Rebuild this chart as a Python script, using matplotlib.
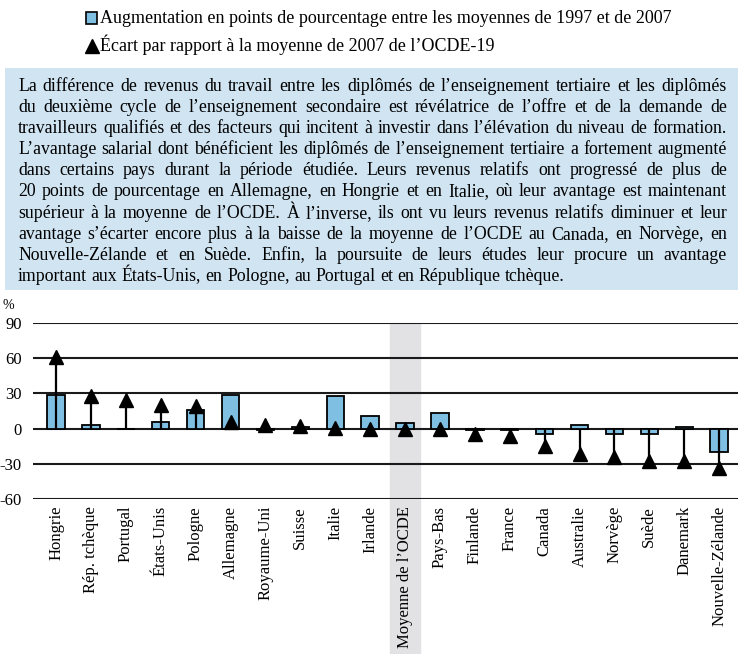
import numpy as np
import matplotlib
matplotlib.use('Agg')
import matplotlib.pyplot as plt
from matplotlib.patches import Rectangle

plt.rcParams['font.family'] = ['Liberation Serif', 'DejaVu Serif']

# data
countries = ['Hongrie', 'Rép. tchèque', 'Portugal', 'États-Unis', 'Pologne', 'Allemagne',
             'Royaume-Uni', 'Suisse', 'Italie', 'Irlande', 'Moyenne de l’OCDE', 'Pays-Bas',
             'Finlande', 'France', 'Canada', 'Australie', 'Norvège', 'Suède', 'Danemark',
             'Nouvelle-Zélande']
change_97_07 = [29, 3, 0, 6, 16, 29, -1, 1, 28, 11, 4.5, 13, -1, -1, -5, 3, -5, -5, 1.5, -20]
gap_oecd_07 = [61, 28, 24, 20, 19, 6, 3, 2, 0.5, 0, 0, 0, -5, -6, -15, -22, -24, -28, -28, -34]
yticks = [90, 60, 30, 0, -30, -60]
avg_label = 'Moyenne de l’OCDE'

legend_bar = 'Augmentation en points de pourcentage entre les moyennes de 1997 et de 2007'
legend_tri = 'Écart par rapport à la moyenne de 2007 de l’OCDE-19'
para = [
    "La différence de revenus du travail entre les diplômés de l’enseignement tertiaire et les diplômés",
    "du deuxième cycle de l’enseignement secondaire est révélatrice de l’offre et de la demande de",
    "travailleurs qualifiés et des facteurs qui incitent à investir dans l’élévation du niveau de formation.",
    "L’avantage salarial dont bénéficient les diplômés de l’enseignement tertiaire a fortement augmenté",
    "dans certains pays durant la période étudiée. Leurs revenus relatifs ont progressé de plus de",
    "20 points de pourcentage en Allemagne, en Hongrie et en Italie, où leur avantage est maintenant",
    "supérieur à la moyenne de l’OCDE. À l’inverse, ils ont vu leurs revenus relatifs diminuer et leur",
    "avantage s’écarter encore plus à la baisse de la moyenne de l’OCDE au Canada, en Norvège, en",
    "Nouvelle-Zélande et en Suède. Enfin, la poursuite de leurs études leur procure un avantage",
    "important aux États-Unis, en Pologne, au Portugal et en République tchèque.",
]

bar_color = '#7fbfe2'
box_color = '#d0e4f2'

fig = plt.figure(figsize=(7.38, 6.54), dpi=100)

# overlay in pixel units for legend / text box
top = fig.add_axes([0, 0, 1, 1])
top.set_xlim(0, 738)
top.set_ylim(654, 0)
top.axis('off')

top.add_patch(Rectangle((86, 12), 11, 12, facecolor=bar_color, edgecolor='black', lw=1.2))
top.text(100, 23, legend_bar, fontsize=13, va='baseline', ha='left')
top.plot([91.5], [46], marker='^', color='black', markersize=10)
top.text(100, 51, legend_tri, fontsize=13, va='baseline', ha='left')

top.add_patch(Rectangle((5, 68), 733, 222, facecolor=box_color, edgecolor='none'))

renderer = fig.canvas.get_renderer()


def width_of(s, size):
    t = top.text(0, 0, s, fontsize=size)
    w = t.get_window_extent(renderer).width
    t.remove()
    return w


x0, x1 = 18, 727
# pick a font size so the longest line nearly fills the box
widest = max(width_of(l, 11) for l in para)
fs = 11 * (x1 - x0) * 0.985 / widest
space_w = width_of('a a', fs) - width_of('aa', fs)
for i, line in enumerate(para):
    y = 91 + i * 21.1
    words = line.split(' ')
    ws = [width_of(w, fs) for w in words]
    if i < len(para) - 1:
        gap = (x1 - x0 - sum(ws)) / (len(words) - 1)
    else:
        gap = space_w
    x = x0
    for w, wd in zip(words, ws):
        top.text(x, y, w, fontsize=fs, va='baseline', ha='left')
        x += wd + gap

# main chart
ax = fig.add_axes([33 / 738, 1 - 499 / 654, 705 / 738, 176 / 654])
x = np.arange(len(countries))
ax.set_xlim(-0.66, len(countries) - 1 + 0.54)
ax.set_ylim(-60, 90)

i_avg = countries.index(avg_label)
ax.axvspan(i_avg - 0.42, i_avg + 0.42, ymin=-0.88, ymax=1, clip_on=False,
           color='#e2e2e4', zorder=0)

for yv in yticks:
    ax.axhline(yv, color='#1a1a1a', lw=1.5, zorder=1)

ax.bar(x, change_97_07, width=0.5, color=bar_color, edgecolor='black', lw=1.3, zorder=2)
ax.vlines(x, 0, gap_oecd_07, color='black', lw=1.6, zorder=3)
ax.plot(x, gap_oecd_07, ls='none', marker='^', color='black', markersize=10, zorder=4)

ax.set_yticks(yticks)
ax.set_yticklabels([str(v) for v in yticks], fontsize=12)
ax.set_xticks(x)
ax.set_xticklabels(countries, rotation=90, fontsize=12)
ax.tick_params(length=0, pad=5)
ax.tick_params(axis='y', pad=8)
for s in ax.spines.values():
    s.set_visible(False)
ax.text(-0.035, 1.06, '%', transform=ax.transAxes, fontsize=10, ha='center', va='bottom')

fig.savefig('out.png', dpi=100)
